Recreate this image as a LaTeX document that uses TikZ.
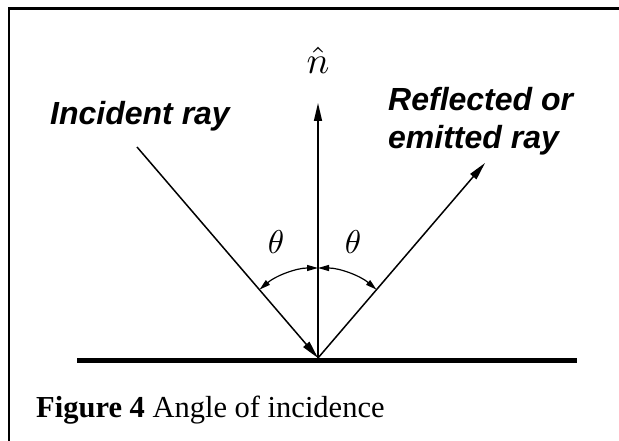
\documentclass[tikz,border=0pt]{standalone}
\usepackage{fontspec}
\setmainfont{Liberation Serif}
\setsansfont{Liberation Sans}
\usepackage{tikz}
\usetikzlibrary{positioning,arrows.meta}

\begin{document}
\begin{tikzpicture}[x=1pt, y=1pt, >=Stealth,
    ray/.style={line width=1.5pt},
    raytip/.style={-{Triangle[length=18pt,width=8pt]}},
    anglearc/.style={line width=1.2pt, {Triangle[length=11pt,width=6pt]}-{Triangle[length=11pt,width=6pt]}},
    label/.style={font=\fontsize{32}{38}\selectfont\sffamily\bfseries\itshape, inner sep=0pt, align=left},
    symb/.style={inner sep=0pt, scale=3.3}]
    \useasboundingbox (0,0) rectangle (619,441);
    \draw[line width=2.5pt] (9,0) -- (9,432.5) -- (619,432.5);

    \coordinate (O) at (318,83);
    \coordinate (inc) at (137,294);
    \coordinate (ntop) at (318,338);
    \coordinate (refl) at (485,278);
    \coordinate (sl) at (77,80.5);
    \coordinate (sr) at (577,80.5);

    \draw[line width=5pt] (sl) -- (sr);
    \draw[ray, raytip] (inc) -- (O);
    \draw[ray, raytip] (O) -- (ntop);
    \draw[ray, raytip] (O) -- (refl);

    \draw[anglearc] ([shift={(130.5:90)}]O) arc[start angle=130.5, end angle=90, radius=90];
    \draw[anglearc] ([shift={(90:90)}]O) arc[start angle=90, end angle=49.5, radius=90];

    \node[symb, scale=1.15] (nhat) at (318,381) {$\hat{n}$};
    \node[symb] (thl) at (276,199) {$\theta$};
    \node[symb] (thr) at (353,199) {$\theta$};

    \node[label, anchor=base west] (inclab) at (50,316) {Incident ray};
    \node[label, anchor=north west] (refllab) at (388,354) {Reflected or\\emitted ray};

    \node[anchor=base west, inner sep=0pt, font=\fontsize{30.5}{36}\selectfont] (cap) at (36,23) {\textbf{Figure 4} Angle of incidence};
\end{tikzpicture}
\end{document}
